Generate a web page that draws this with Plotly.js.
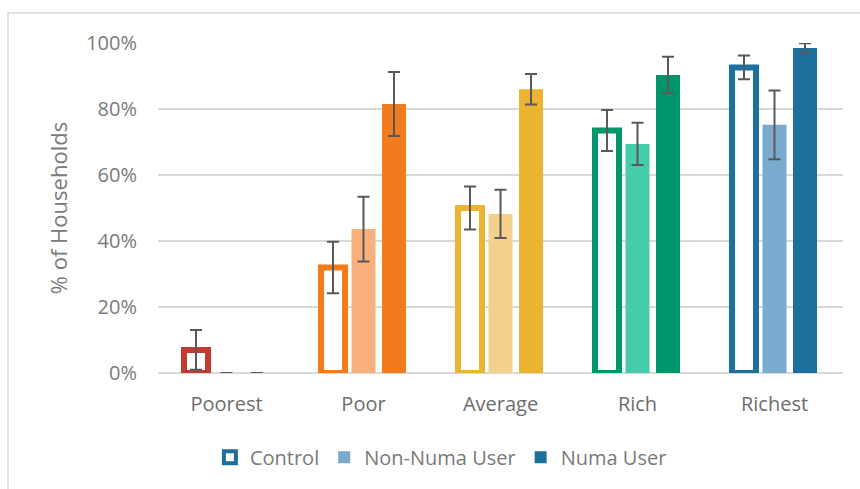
<!DOCTYPE html>
<html>
<head>
<meta charset="utf-8">
<script src="https://cdn.plot.ly/plotly-3.0.1.min.js"></script>
<style>html,body{margin:0;padding:0;background:#fff;}#chart{width:860px;height:489px;}</style>
</head>
<body>
<div id="chart"></div>
<script>
const categories = ['Poorest', 'Poor', 'Average', 'Rich', 'Richest'];
const controlValues = [7, 32, 50, 73.5, 92.6];
const controlErrors = [6, 7.8, 6.5, 6.2, 3.6];
const nonNumaValues = [0, 43.6, 48.2, 69.4, 75.2];
const nonNumaErrors = [0, 9.8, 7.3, 6.4, 10.4];
const numaValues = [0, 81.5, 86, 90.3, 98.5];
const numaErrors = [0, 9.7, 4.6, 5.5, 1.4];
const seriesNames = ['Control', 'Non-Numa User', 'Numa User'];
const yTicks = [0, 20, 40, 60, 80, 100];

const darkColors = ['#C23B30', '#F47B1C', '#EDB432', '#00966B', '#1C709E'];
const lightColors = ['#F9B07A', '#F9B07A', '#F3D18C', '#45CDA9', '#7AAACE'];

const errStyle = (arr) => ({type: 'data', array: arr, visible: true, color: '#595959', thickness: 2, width: 6});

const traces = [
  {type: 'bar', x: categories, y: controlValues, name: seriesNames[0], showlegend: false, offsetgroup: 'g1',
   marker: {color: '#ffffff', line: {color: darkColors, width: 6}}, error_y: errStyle(controlErrors), hoverinfo: 'y'},
  {type: 'bar', x: categories, y: nonNumaValues, name: seriesNames[1], showlegend: false, offsetgroup: 'g2',
   marker: {color: lightColors, line: {width: 0}}, error_y: errStyle(nonNumaErrors), hoverinfo: 'y'},
  {type: 'bar', x: categories, y: numaValues, name: seriesNames[2], showlegend: false, offsetgroup: 'g3',
   marker: {color: darkColors, line: {width: 0}}, error_y: errStyle(numaErrors), hoverinfo: 'y'},
  {type: 'bar', x: [categories[0]], y: [null], name: seriesNames[0], showlegend: true, offsetgroup: 'g1',
   marker: {color: '#ffffff', line: {color: '#1C709E', width: 4}}},
  {type: 'bar', x: [categories[0]], y: [null], name: seriesNames[1], showlegend: true, offsetgroup: 'g2',
   marker: {color: '#7AAACE'}},
  {type: 'bar', x: [categories[0]], y: [null], name: seriesNames[2], showlegend: true, offsetgroup: 'g3',
   marker: {color: '#1C709E'}}
];

const layout = {
  width: 860, height: 489,
  margin: {l: 158, r: 17, t: 43, b: 116},
  paper_bgcolor: '#ffffff', plot_bgcolor: '#ffffff',
  font: {family: '"Open Sans", sans-serif', color: '#7a7a7a', size: 20},
  barmode: 'group', bargap: 0.332, bargroupgap: 0.213,
  showlegend: true,
  legend: {orientation: 'h', x: 0.413, xanchor: 'center', y: -0.255, yanchor: 'middle',
           font: {size: 20, color: '#7a7a7a'}, itemwidth: 30, traceorder: 'normal'},
  xaxis: {type: 'category', categoryorder: 'array', categoryarray: categories, range: [-0.5, 4.5],
          showgrid: false, showline: false, zeroline: false, ticks: '', ticklabelstandoff: 17,
          tickfont: {size: 20, color: '#6e6e6e'}, fixedrange: true},
  yaxis: {range: [0, 100], tickvals: yTicks, ticktext: yTicks.map(v => v + '%'),
          showgrid: true, gridcolor: '#d9d9d9', gridwidth: 1.5, zeroline: true, zerolinecolor: '#d9d9d9', zerolinewidth: 2,
          showline: false, ticks: '', ticklabelstandoff: 20, tickfont: {size: 20, color: '#7a7a7a'},
          title: {text: '% of Households', font: {size: 22, color: '#7a7a7a'}, standoff: 12}, fixedrange: true},
  shapes: [{type: 'rect', xref: 'paper', yref: 'paper', x0: (8 - 158) / 685, x1: 1.2, y0: -0.6, y1: 1 + 30 / 330,
            line: {color: '#d9d9d9', width: 1.5}, fillcolor: 'rgba(0,0,0,0)', layer: 'below'}]
};

Plotly.newPlot('chart', traces, layout, {displayModeBar: false, staticPlot: true});
</script>
</body>
</html>
